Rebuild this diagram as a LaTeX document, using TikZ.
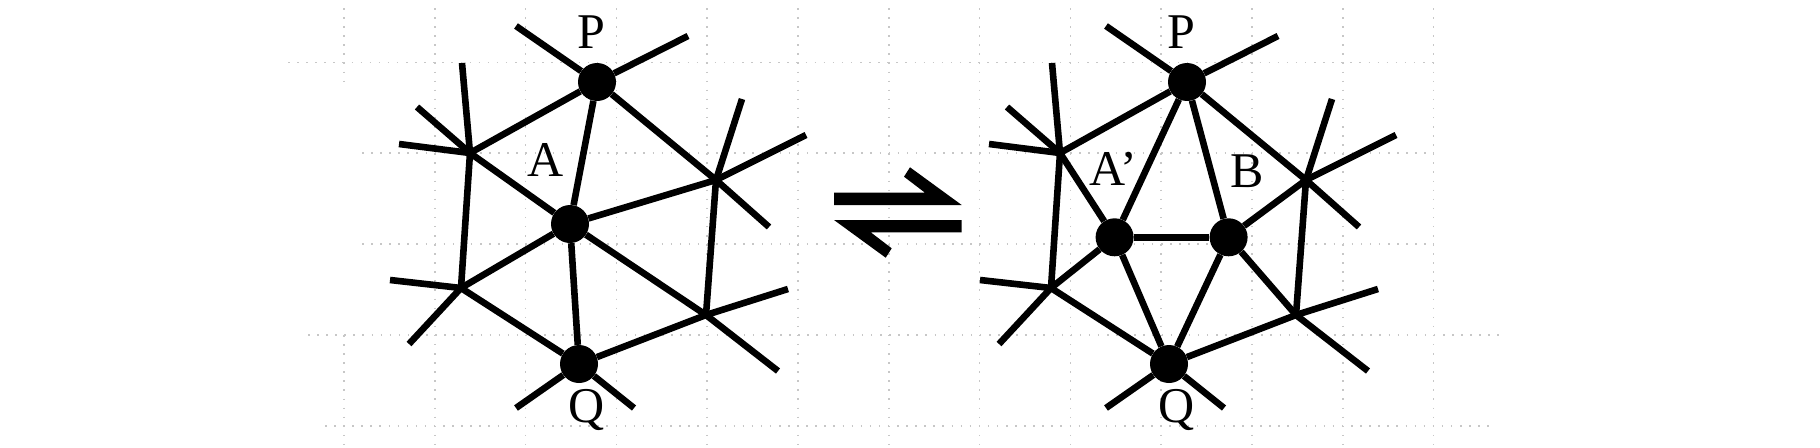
\documentclass[tikz,border=0pt]{standalone}
\usepackage{fontspec}
\setmainfont{Liberation Serif}

\begin{document}
\begin{tikzpicture}[x=1pt, y=-1pt]
\tikzset{bond/.style={line width=6.6pt}}
\tikzset{atom/.style={circle, fill, inner sep=0pt, minimum size=38pt}}
\tikzset{lbl/.style={font=\fontsize{50}{60}\selectfont, inner sep=0pt, anchor=base}}
\tikzset{gridline/.style={black!22, line width=1.5pt, dash pattern=on 1.5pt off 7.58pt}}
\useasboundingbox (0,0) rectangle (1820,447);

% dotted grid in the back
\foreach \k in {1,...,12}
  \draw[gridline] ({344+90.8*\k},8) -- ({344+90.8*\k},447);
\draw[gridline] (344,8) -- (344,81) (344,335) -- (344,447);
\foreach \gy/\ga/\gb in {62.3/288/1434, 153.2/362/1434, 244.1/362/1434, 335/308/1505, 425.9/325/1490}
  \draw[gridline] (\ga,\gy) -- (\gb,\gy);

% outer ring, the same on both sides
\foreach \s/\dx in {l/0, r/590}{
\begin{scope}[xshift=\dx pt, name prefix=\s-]
\node[atom] (P) at (597,82) {};
\node[atom] (Q) at (579,364) {};
\coordinate (ul) at (470,153);
\coordinate (ll) at (461,288);
\coordinate (ur) at (716,180);
\coordinate (lr) at (706,315);
% free ends
\coordinate (Pa) at (516,26);
\coordinate (Pb) at (688,36);
\coordinate (ula) at (462,63);
\coordinate (ulb) at (417,107);
\coordinate (ulc) at (399,144);
\coordinate (lla) at (390,280);
\coordinate (llb) at (409,344);
\coordinate (ura) at (742,99);
\coordinate (urb) at (806,135);
\coordinate (urc) at (769,227);
\coordinate (lra) at (788,289);
\coordinate (lrb) at (778,371);
\coordinate (Qa) at (516,408);
\coordinate (Qb) at (634,408);
\node[lbl] (Plab) at (591,48) {P};
\node[lbl] (Qlab) at (587,422) {Q};
\foreach \a/\b in {P/ul, ul/ll, ll/Q, Q/lr, lr/ur, ur/P,
                   P/Pa, P/Pb, ul/ula, ul/ulb, ul/ulc, ll/lla, ll/llb,
                   ur/ura, ur/urb, ur/urc, lr/lra, lr/lrb, Q/Qa, Q/Qb}
  \draw[bond] (\a) -- (\b);
\end{scope}
}

% left: A in the middle
\node[atom] (A) at (570,224) {};
\node[lbl] (Alab) at (546,176) {A};
\foreach \b in {P, ul, ll, Q, lr, ur}
  \draw[bond] (A) -- (l-\b);

% equilibrium harpoons
\fill (834,192.7) -- (925,192.7) -- (904,176.7) -- (910,167.3) -- (961.7,205) -- (834,205) -- cycle;
\fill (961.7,232.3) -- (870.7,232.3) -- (891.7,248.3) -- (885.7,257.7) -- (834,220) -- (961.7,220) -- cycle;

% right: A' and B
\node[atom] (Ap) at (1114.6,237.3) {};
\node[atom] (B) at (1228.6,237.3) {};
\node[lbl] (Aplab) at (1113,185) {A’};
\node[lbl] (Blab) at (1247,187) {B};
\draw[bond] (Ap) -- (B);
\foreach \b in {P, ul, ll, Q}
  \draw[bond] (Ap) -- (r-\b);
\foreach \b in {P, ur, lr, Q}
  \draw[bond] (B) -- (r-\b);
\end{tikzpicture}
\end{document}
